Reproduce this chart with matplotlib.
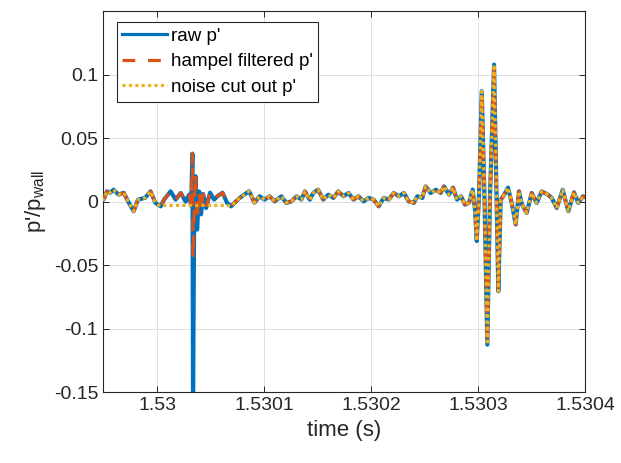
import numpy as np
import matplotlib
matplotlib.use('Agg')
from matplotlib import pyplot as plt

# time offsets from 1.53 s, in microseconds
t_us = [-52, -50.1, -46.9, -43.9, -40.7, -36.0, -31.2, -27.1, -21.9, -17.8, -11.2, -6.2, -1.5, 3.3,
        6.5, 12.6, 17.3, 22.1, 26.7, 29.9, 31.8, 33.0, 33.6, 34.6, 36.0, 37.4, 39.3, 41.1, 43.0,
        45.8, 49.5, 53.3, 57.0, 61.2, 65.4, 69.2, 75.4, 81.3, 86.0, 91.0, 95.8, 100.5, 105.1,
        109.9, 116.2, 120.8, 125.6, 130.3, 135.0, 138.1, 142.8, 146.0, 150.5, 155.3, 160.1,
        164.8, 169.4, 174.2, 178.9, 183.6, 188.3, 193.0, 197.7, 202.4, 207.1, 211.8, 216.5,
        221.2, 225.9, 230.7, 235.3, 240.0, 243.2, 247.9, 251.0, 255.7, 260.5, 265.1, 268.2,
        272.9, 276.6, 280.4, 284.1, 287.9, 291.6, 295.0, 297.2, 298.8, 300.9, 303.5, 306.1,
        308.7, 311.2, 315.0, 319.0, 321.2, 323.6, 328.0, 331.5, 335.2, 338.3, 341.1, 345.5,
        350.2, 354.9, 359.5, 365.4, 368.9, 373.6, 379.2, 384.4, 389.7, 393.7, 398.1, 401.9]

# raw p'/p_wall
raw_p = [0.002, 0.0016, 0.0081, 0.007, 0.0094, 0.0055, 0.007, 0.0002, -0.0076, 0.0016, 0.003,
         0.0081, -0.001, -0.0037, 0.0016, 0.0081, 0.0016, 0.0068, 0.0, 0.0055, -0.003, 0.0378,
         -0.16, -0.02, 0.02, -0.022, 0.008, -0.01, 0.006, -0.005, 0.007, 0.0016, 0.0047, 0.007,
         -0.001, -0.0037, 0.0016, 0.0055, 0.0081, -0.0008, 0.0042, 0.0016, 0.0042, 0.0002,
         0.0042, -0.001, 0.0002, 0.0042, 0.0016, 0.0081, 0.0016, 0.0068, 0.0094, 0.0016, 0.0055,
         0.0029, 0.0081, 0.0042, 0.0068, 0.0016, 0.0042, 0.0002, 0.0029, 0.0016, -0.0037,
         0.0029, 0.0016, 0.0068, 0.0042, 0.0068, 0.0002, -0.001, 0.0042, 0.0029, 0.012, 0.0068,
         0.0094, 0.0068, 0.012, 0.0055, 0.011, 0.0016, 0.0042, -0.0024, -0.0008, 0.0094,
         -0.0063, -0.031, 0.004, 0.0869, 0.0016, -0.1126, 0.004, 0.1079, -0.0706, 0.0016,
         0.0042, 0.011, -0.001, -0.018, 0.0081, -0.0024, -0.0089, 0.0068, -0.001, 0.0081,
         0.0055, 0.0029, -0.005, 0.0094, -0.0076, 0.0073, -0.001, 0.0042, 0.003]

# points where the hampel filter replaced the raw value
hampel_t_us = [33.6, 34.6, 36.0, 37.4, 41.1]
hampel_v = [-0.045, -0.01, 0.022, -0.015, -0.008]

# window (us) that was cut out as noise, and its level
cut_start_us, cut_end_us, cut_level = 4.7, 69.0, -0.003

x_ticks = [1.53, 1.5301, 1.5302, 1.5303, 1.5304]
x_labels = ['1.53', '1.5301', '1.5302', '1.5303', '1.5304']
y_ticks = [-0.15, -0.1, -0.05, 0, 0.05, 0.1]
y_labels = ['-0.15', '-0.1', '-0.05', '0', '0.05', '0.1']

t_us = np.array(t_us)
time = 1.53 + t_us * 1e-6
raw = np.array(raw_p)
hampel = raw.copy()
for tu, v in zip(hampel_t_us, hampel_v):
    hampel[np.isclose(t_us, tu)] = v
cut = np.where((t_us > cut_start_us) & (t_us < cut_end_us), cut_level, hampel)

plt.rcParams['font.family'] = ['Liberation Sans', 'DejaVu Sans']
dark = '#262626'

fig = plt.figure(figsize=(6.21, 4.63), dpi=100)
ax = fig.add_axes([0.166, 0.153, 0.776, 0.823])

ax.plot(time, raw, color='#0072BD', lw=3.0, label="raw p'", zorder=3)
ax.plot(time, hampel, color='#D95319', lw=2.3, dashes=(4, 4), label="hampel filtered p'", zorder=4)
ax.plot(time, cut, color='#EDB120', lw=2.3, dashes=(1, 1), label="noise cut out p'", zorder=5)

ax.set_xlim(1.53 - 50.5e-6, 1.5304)
ax.set_ylim(-0.15, 0.15)
ax.set_xticks(x_ticks)
ax.set_xticklabels(x_labels)
ax.set_yticks(y_ticks)
ax.set_yticklabels(y_labels)
ax.grid(True, color='#dfdfdf', lw=0.7)
ax.set_axisbelow(True)
ax.tick_params(direction='in', top=True, right=True, length=4, width=0.7,
               colors=dark, labelsize=14, labelcolor=dark)
for s in ax.spines.values():
    s.set_color(dark)
    s.set_linewidth(0.8)

ax.set_xlabel('time (s)', fontsize=16, color=dark)
ax.set_ylabel(r"p'/p$_\mathregular{wall}$", fontsize=16, color=dark)

leg = ax.legend(loc='upper left', bbox_to_anchor=(0.028, 0.971), fontsize=13.5,
                handlelength=2.4, handletextpad=0.2, labelspacing=0.45, borderpad=0.3,
                borderaxespad=0, fancybox=False, framealpha=1, edgecolor=dark)
leg.get_frame().set_linewidth(0.8)
for h in leg.get_lines():
    h.set_linewidth(2.3)

fig.savefig('out.png', dpi=100)
